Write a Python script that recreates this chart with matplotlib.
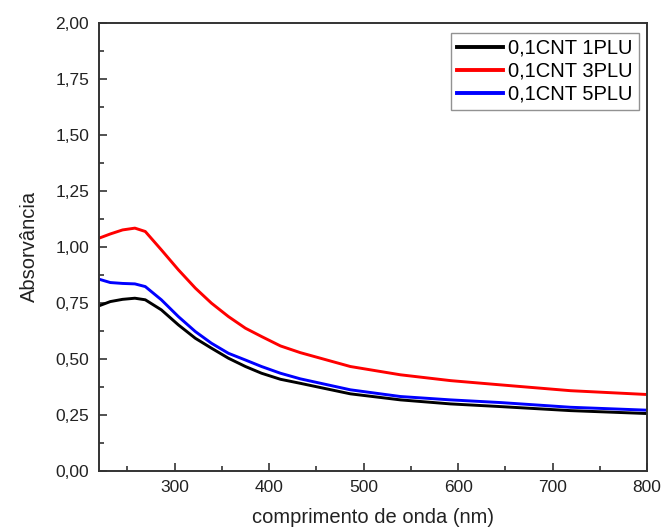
import matplotlib
matplotlib.use("Agg")
import matplotlib.pyplot as plt
from matplotlib.ticker import MultipleLocator, FuncFormatter

plt.rcParams['font.family'] = ['Liberation Sans', 'DejaVu Sans']

wavelength = [220, 232, 245, 258, 269, 286, 304, 322, 339, 357, 375, 392, 412, 433, 486, 539, 592, 645, 719, 800]
abs_1plu = [0.736, 0.755, 0.765, 0.770, 0.763, 0.718, 0.651, 0.591, 0.547, 0.502, 0.465, 0.435, 0.408, 0.390, 0.343, 0.316, 0.298, 0.286, 0.268, 0.255]
abs_3plu = [1.038, 1.057, 1.075, 1.083, 1.068, 0.986, 0.897, 0.815, 0.748, 0.688, 0.636, 0.599, 0.557, 0.527, 0.465, 0.428, 0.402, 0.383, 0.357, 0.340]
abs_5plu = [0.855, 0.840, 0.836, 0.834, 0.822, 0.763, 0.688, 0.621, 0.569, 0.524, 0.494, 0.465, 0.435, 0.410, 0.361, 0.331, 0.316, 0.304, 0.283, 0.270]
labels = ['0,1CNT 1PLU', '0,1CNT 3PLU', '0,1CNT 5PLU']
colors = ['#000000', '#ff0000', '#0000ff']

fig = plt.figure(figsize=(6.62, 5.30), dpi=100)
ax = fig.add_axes([0.1495, 0.112, 0.828, 0.845])

for y, lab, c in zip([abs_1plu, abs_3plu, abs_5plu], labels, colors):
    ax.plot(wavelength, y, color=c, lw=2.1, label=lab, solid_joinstyle='round')

ax.set_xlim(220, 800)
ax.set_ylim(0, 2.0)
ax.xaxis.set_major_locator(MultipleLocator(100))
ax.xaxis.set_minor_locator(MultipleLocator(50))
ax.yaxis.set_major_locator(MultipleLocator(0.25))
ax.yaxis.set_minor_locator(MultipleLocator(0.125))
ax.yaxis.set_major_formatter(FuncFormatter(lambda v, p: f"{v:.2f}".replace('.', ',')))
ax.tick_params(which='both', direction='in', top=False, right=False, colors='#333333', labelcolor='#222222', labelsize=12.5)
ax.tick_params(which='major', length=6, width=1.2, pad=7)
ax.tick_params(which='minor', length=3.5, width=1.2)
for s in ax.spines.values():
    s.set_color('#333333')
    s.set_linewidth(1.4)

ax.set_xlabel('comprimento de onda (nm)', fontsize=14.5, color='#222222', labelpad=9)
ax.set_ylabel('Absorvância', fontsize=14.5, color='#222222', labelpad=12)

leg = ax.legend(loc='upper right', bbox_to_anchor=(0.985, 0.978), fontsize=14.5, frameon=True, fancybox=False,
                edgecolor='#777777', handlelength=2.3, handletextpad=0.25, borderpad=0.3, labelspacing=0.2,
                borderaxespad=0.0)
leg.get_frame().set_linewidth(1.0)
for line in leg.get_lines():
    line.set_linewidth(2.8)

fig.savefig('out.png', dpi=100)
